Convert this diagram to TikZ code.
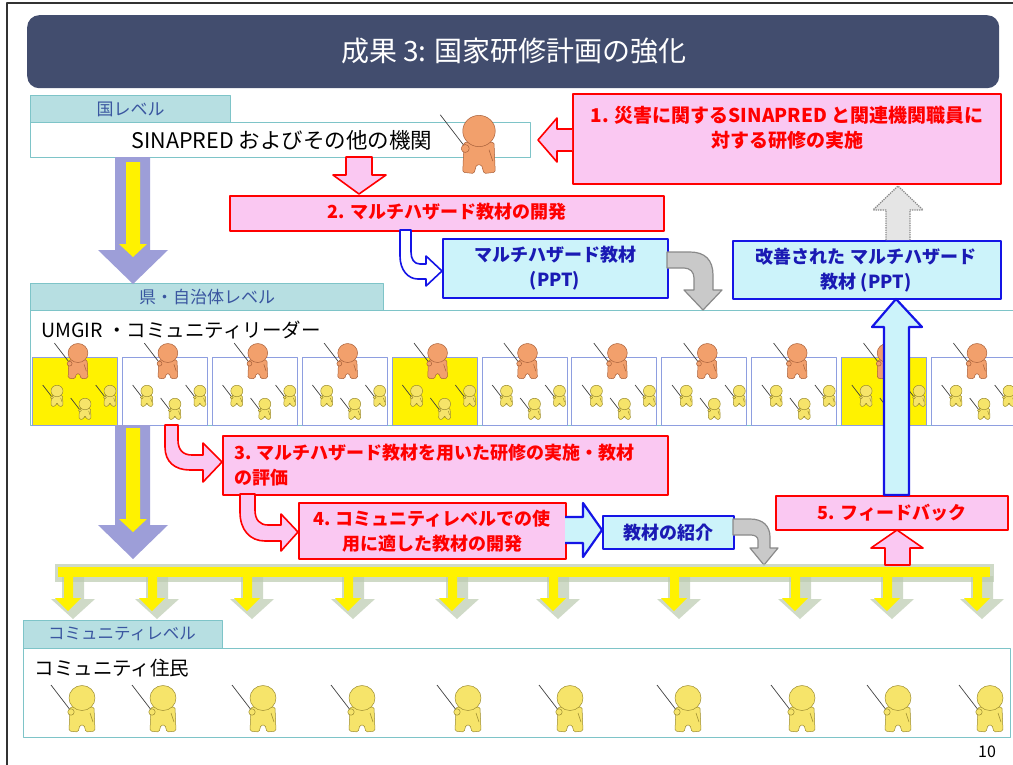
\documentclass[tikz,border=0pt]{standalone}
\usepackage{fontspec}
\setmainfont{Noto Sans CJK JP}
\usetikzlibrary{calc}

\definecolor{navy}{HTML}{424D6E}
\definecolor{tabfill}{HTML}{B7DFE2}
\definecolor{lvteal}{HTML}{7EC4C8}
\definecolor{tabtext}{HTML}{3A56A0}
\definecolor{pinkfill}{HTML}{FAC8F2}
\definecolor{cyanfill}{HTML}{CCF3FA}
\definecolor{boxblue}{HTML}{1414E6}
\definecolor{bluetxt}{HTML}{1A1AB4}
\definecolor{lav}{HTML}{9D9ED8}
\definecolor{figY}{HTML}{F6E46A}
\definecolor{figYd}{HTML}{9C8C30}
\definecolor{figO}{HTML}{F2A06C}
\definecolor{figOd}{HTML}{A8603A}
\definecolor{cellline}{HTML}{8E9EE0}
\definecolor{shadegreen}{HTML}{BCCBB0}
\definecolor{grayfill}{HTML}{C9C9C9}
\definecolor{grayline}{HTML}{8A8A8A}

\newcommand\fsz[2]{\fontsize{#1}{#2}\selectfont}

% a small presenter figure, head centred on the origin
\newcommand\figshape[2]{%
  \draw[black!75, line width=0.7pt] (-31,-13) -- (-11,13);
  \filldraw[fill=#1, draw=#2, line width=0.5pt, rounded corners=1.5pt]
    (-12,9) -- (-13,33) -- (-4,34) -- (-2,27) -- (2,27) -- (4,34) -- (13,33) -- (12,9) -- cycle;
  \draw[#2, line width=0.5pt] (8,15) -- (11,24);
  \filldraw[fill=#1, draw=#2, line width=0.5pt] (-11,14) circle (3.2);
  \filldraw[fill=#1, draw=#2, line width=0.5pt] (0,0) ellipse (13 and 12.5);
}

\tikzset{
  ypers/.pic={\figshape{figY}{figYd}},
  opers/.pic={\figshape{figO}{figOd}},
  tabbox/.style={draw=lvteal, fill=tabfill, line width=1pt, inner sep=0pt, anchor=north west},
  lvbox/.style={draw=lvteal, fill=white, line width=1.2pt, inner sep=0pt, anchor=north west},
  tablabel/.style={text=tabtext, font=\fsz{17}{20}},
  pinkbox/.style={draw=red, fill=pinkfill, line width=1.6pt, inner sep=0pt, anchor=north west},
  cyanbox/.style={draw=boxblue, fill=cyanfill, line width=1.6pt, inner sep=0pt, anchor=north west},
  redtext/.style={text=red, font=\fsz{18}{25}\bfseries, align=center, inner sep=0pt},
  bluetext/.style={text=bluetxt, font=\fsz{18}{25}\bfseries, align=center, inner sep=0pt},
  cellbox/.style={draw=cellline, line width=0.9pt, inner sep=0pt, anchor=north west,
    minimum width=85pt, minimum height=68pt},
  redarrow/.style={draw=red, fill=pinkfill, line width=1.6pt},
  bluearrow/.style={draw=boxblue, fill=cyanfill, line width=2.2pt},
  grayarrow/.style={draw=grayline, fill=grayfill, line width=1.2pt},
}

\begin{document}
\begin{tikzpicture}[x=1pt, y=-1pt, line join=round]
\clip (0,0) rectangle (1013,764);
\fill[white] (0,0) rectangle (1013,764);

% page frame and title bar
\draw[black!80, line width=1.5pt] (7,770) -- (7,3) -- (1020,3);
\node[fill=navy, rounded corners=12pt, minimum width=972pt, minimum height=73pt,
  inner sep=0pt, anchor=north west] (titlebar) at (27,15) {};
\node[text=white, font=\fsz{28}{28}] (title) at (514,51) {成果 3: 国家研修計画の強化};

% national level
\node[tabbox, minimum width=200pt, minimum height=27pt] (tabnat) at (30,95) {};
\node[tablabel] (tabnattxt) at (tabnat.center) {国レベル};
\node[lvbox, minimum width=500pt, minimum height=35pt] (natbox) at (30,122) {};
\node[font=\fsz{21.5}{21.5}] (nattxt) at (282,140) {SINAPRED およびその他の機関};
\pic[scale=1.25] (natfig) at (479,131) {opers};

% step 1
\node[pinkbox, minimum width=428pt, minimum height=90pt] (step1) at (572,93) {};
\node[redtext, font=\fsz{19}{25}\bfseries] (step1txt) at (787,128) {1. 災害に関するSINAPRED と関連機関職員に\\対する研修の実施};
\draw[redarrow] (572,129) -- (557,129) -- (557,118) -- (538,140) -- (557,162) -- (557,151) -- (572,151);

% step 2
\draw[redarrow] (346,157) -- (372,157) -- (372,175) -- (386,175) -- (359,194) -- (333,175) -- (346,175) -- cycle;
\node[pinkbox, minimum width=434pt, minimum height=35pt] (step2) at (229,195) {};
\node[redtext] (step2txt) at (447,212) {2. マルチハザード教材の開発};

% multi-hazard material
\draw[draw=boxblue, fill=white, line width=1.6pt]
  (400,230) -- (400,256) .. controls (400,270) and (408,279) .. (418,279) -- (426,279)
  -- (426,286) -- (442,271) -- (426,256) -- (426,264) -- (420,264)
  .. controls (414,264) and (411,259) .. (411,252) -- (411,230) -- cycle;
\node[cyanbox, minimum width=225pt, minimum height=59pt] (ppt) at (442,238) {};
\node[bluetext] (ppttxt) at (555,268) {マルチハザード教材\\(PPT)};
\node[cyanbox, minimum width=268pt, minimum height=58pt] (ppt2) at (732,240) {};
\node[bluetext] (ppt2txt) at (866,270) {改善された マルチハザード\\教材 (PPT)};
\draw[densely dotted, grayline, fill=gray!20, line width=1.3pt]
  (886,240) -- (886,210) -- (873,210) -- (898,186) -- (923,210) -- (910,210) -- (910,240);

% prefectural / municipal level
\node[tabbox, minimum width=353pt, minimum height=27pt] (tabpref) at (30,283) {};
\node[tablabel] (tabpreftxt) at (207,297) {県・自治体レベル};
\node[lvbox, minimum width=1000pt, minimum height=115pt] (prefbox) at (30,310) {};
\node[font=\fsz{19.5}{19.5}, anchor=west] (preftxt) at (38,330) {UMGIR ・コミュニティリーダー};

\foreach \i/\c in {0/yellow,1/white,2/white,3/white,4/yellow,5/white,6/white,7/white,8/white,9/yellow,10/white} {
  \pgfmathsetmacro\cx{32+89.9*\i}
  \node[cellbox, fill=\c] (cell\i) at (\cx,357) {};
  \pic[scale=0.46] at (\cx+25,391) {ypers};
  \pic[scale=0.46] at (\cx+53,404) {ypers};
  \pic[scale=0.46] at (\cx+78,391) {ypers};
  \pic[scale=0.76] at (\cx+46,353) {opers};
}

% gray turn arrow down to the leaders
\draw[grayarrow] (667,252) -- (690,252) .. controls (705,252) and (713,260) .. (713,275)
  -- (713,290) -- (722,290) -- (703,310) -- (684,290) -- (694,290) -- (694,278)
  .. controls (694,272) and (690,268) .. (684,268) -- (667,268) -- cycle;

% level-to-level arrows
\foreach \yt/\yb/\yi in {157/250/162, 425/525/428} {
  \fill[lav] (115,\yt) -- (150,\yt) -- (150,\yb) -- (168,\yb) -- (133,\yb+34) -- (98,\yb) -- (115,\yb) -- cycle;
  \fill[yellow] (126,\yi) -- (140,\yi) -- (140,\yb-6) -- (147,\yb-6) -- (133,\yb+7) -- (119,\yb-6) -- (126,\yb-6) -- cycle;
}

% steps 3 and 4
\draw[redarrow] (165,425) -- (165,447) .. controls (165,462) and (175,470) .. (190,470) -- (203,470)
  -- (203,482) -- (222,462) -- (203,443) -- (203,455) -- (192,455)
  .. controls (183,455) and (178,450) .. (178,440) -- (178,425) -- cycle;
\node[pinkbox, minimum width=445pt, minimum height=59pt] (step3) at (222,435) {};
\node[redtext, align=left, anchor=west] (step3txt) at (234,465) {3. マルチハザード教材を用いた研修の実施・教材\\の評価};
\draw[redarrow] (240,494) -- (240,512) .. controls (240,530) and (250,541) .. (265,541) -- (281,541)
  -- (281,551) -- (298,532) -- (281,514) -- (281,525) -- (268,525)
  .. controls (260,525) and (255,520) .. (255,510) -- (255,494) -- cycle;
\node[pinkbox, minimum width=267pt, minimum height=56pt] (step4) at (298,502) {};
\node[redtext] (step4txt) at (432,531) {4. コミュニティレベルでの使\\用に適した教材の開発};
\draw[bluearrow] (565,517) -- (583,517) -- (583,503) -- (602,530) -- (583,557) -- (583,543) -- (565,543);
\node[cyanbox, minimum width=131pt, minimum height=33pt] (intro) at (602,515) {};
\node[bluetext] (introtxt) at (intro.center) {教材の紹介};
\draw[grayarrow] (733,519) -- (750,519) .. controls (763,519) and (770,526) .. (770,537)
  -- (770,548) -- (778,548) -- (764,565) -- (750,548) -- (758,548) -- (758,540)
  .. controls (758,537) and (755,535) .. (751,535) -- (733,535) -- cycle;

% distribution bar to the communities
\fill[shadegreen, opacity=0.7] (55,564) rectangle (994,582);
\foreach \x in {68,152,247,348,452,553,674,795,887,977} {
  \fill[shadegreen, opacity=0.7] (\x-6,576) -- (\x+16,576) -- (\x+16,599) -- (\x+27,599)
    -- (\x+5,619) -- (\x-17,599) -- (\x-6,599) -- cycle;
}
\fill[yellow] (58,567) rectangle (990,577);
\foreach \x in {68,152,247,348,452,553,674,795,887,977} {
  \fill[yellow] (\x-4,576) -- (\x+5,576) -- (\x+5,598) -- (\x+13,598) -- (\x,611)
    -- (\x-13,598) -- (\x-4,598) -- cycle;
}

% step 5 feedback
\node[pinkbox, minimum width=232pt, minimum height=34pt] (step5) at (775,495) {};
\node[redtext] (step5txt) at (step5.center) {5. フィードバック};
\draw[redarrow] (885,565) -- (885,548) -- (871,548) -- (897,530) -- (923,548) -- (910,548) -- (910,565) -- cycle;
\draw[bluearrow] (884,495) -- (884,327) -- (872,327) -- (896,299) -- (922,327) -- (909,327) -- (909,495) -- cycle;

% community level
\node[tabbox, minimum width=199pt, minimum height=28pt] (tabcom) at (23,620) {};
\node[tablabel, font=\fsz{16.5}{20}] (tabcomtxt) at (122,634) {コミュニティレベル};
\node[lvbox, minimum width=987pt, minimum height=89pt] (combox) at (23,648) {};
\node[font=\fsz{19.5}{19.5}, anchor=west] (comtxt) at (31,668) {コミュニティ住民};
\foreach \x [count=\k] in {82,163,263,362,468,570,688,802,898,990} {
  \pic (res\k) at (\x,698) {ypers};
}

\node[font=\fsz{16}{16}] (pageno) at (987,752) {10};
\end{tikzpicture}
\end{document}
